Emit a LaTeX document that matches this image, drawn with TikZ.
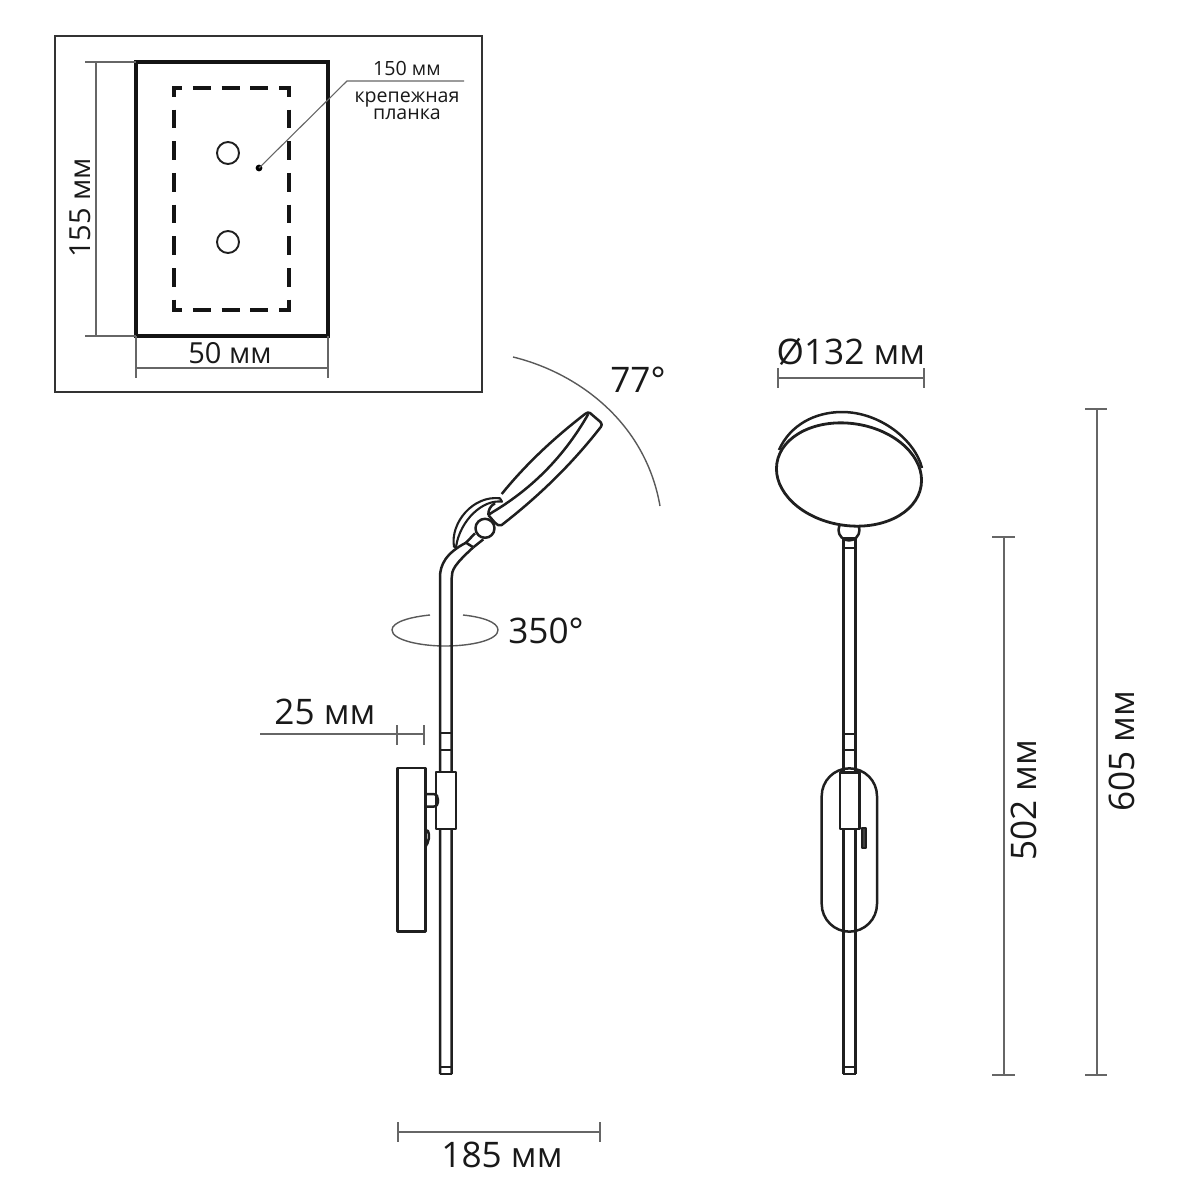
\documentclass[tikz,border=0pt]{standalone}
\usepackage{fontspec}
\setmainfont{Open Sans}
\tikzset{
  line/.style={draw=black!88,line width=1.25pt,line join=round},
  dimline/.style={draw=black!60,line width=0.55pt},
  thinarc/.style={draw=black!65,line width=0.7pt},
  dashh/.style={draw=black!92,line width=2pt,dash pattern=on 9pt off 5.4pt,dash phase=4pt},
  dashv/.style={draw=black!92,line width=2pt,dash pattern=on 9.35pt off 6.5pt,dash phase=4.6pt},
  big/.style={inner sep=0pt,text=black!90,font=\fontsize{17.6}{18}\selectfont},
  mid/.style={inner sep=0pt,text=black!90,font=\fontsize{14.5}{15}\selectfont},
  small/.style={inner sep=0pt,text=black!90,font=\fontsize{9.8}{7.3}\selectfont},
}
\begin{document}
\begin{tikzpicture}[x=0.5pt,y=-0.5pt]
\useasboundingbox (0,0) rectangle (1200,1200);
% inset
\draw[draw=black!80,line width=1.2pt] (55,36) rectangle (482,392);
\draw[draw=black!92,line width=1.6pt] (136,62) rectangle (328,336);
\draw[dashh] (172,88.3) -- (291,88.3);
\draw[dashh] (172,310) -- (291,310);
\draw[dashv] (173.7,87) -- (173.7,311.5);
\draw[dashv] (289.3,87) -- (289.3,311.5);
\draw[line,line width=0.95pt] (228,153) circle (11);
\draw[line,line width=0.95pt] (228,242) circle (11);
\coordinate (leadA) at (347,81);
\coordinate (leadB) at (464,81);
\fill[black] (259,168) circle (3.4) coordinate (leadDot);
\draw[dimline] (leadDot) -- (leadA) -- (leadB);
\draw[dimline] (85,62) -- (136,62) (85,336) -- (136,336) (96,62) -- (96,336);
\draw[dimline] (136,336) -- (136,378) (328,336) -- (328,378) (136,368) -- (328,368);
\node[mid,rotate=90] (t155) at (80,208) {155 мм};
\node[mid] (t50) at (230,353) {50 мм};
\node[small] (t150) at (407,68) {150 мм};
\node[small,align=center] (tk) at (407,106) {крепежная\\планка};
% side view
\draw[thinarc] (513,357) .. controls (575,372) and (645,420) .. (660,506);
\node[big] (t77) at (638,380) {77°};
\draw[thinarc] (430,615) .. controls (410,617) and (392,622) .. (392,630) .. controls (392,640) and (420,646) .. (445,646) .. controls (472,646) and (498,640) .. (498,630) .. controls (498,622) and (482,617) .. (463,615);
\node[big] (t350) at (546,631) {350°};
% head
\draw[line] (501.7,494) .. controls (526,464) and (554,438) .. (585,414) .. controls (587,412.5) and (588.5,412) .. (590,413) -- (600.5,422) .. controls (602,424) and (602,425) .. (601,426.7) .. controls (572,464) and (539,496) .. (501.7,525) .. controls (499,526) and (497,525) .. (495,522.7) -- (488.3,515);
\draw[line] (588.3,414) .. controls (565,455) and (533.5,487.5) .. (493.3,511.7) -- (488.3,515);
\draw[line,line width=1.05pt] (454,546.7) .. controls (450,523) and (473,495) .. (500,498.3) -- (502,501.7) .. controls (483,499) and (460,520) .. (456,547) -- cycle;
\draw[line] (495,503.3) .. controls (490,506) and (488.3,510) .. (488.3,515);
\draw[line] (485,528.3) circle (9.5);
\draw[line] (466,542.7) -- (475,533.3) (473.3,547.3) -- (483.3,539.3);
\draw[line] (466,542.7) -- (473.3,547.3);
\draw[line] (440,1074) -- (440,577) .. controls (440,565) and (446,553) .. (466,542.7);
\draw[line] (451.7,1074) -- (451.7,578) .. controls (451.7,570) and (454,565) .. (473.3,547.3);
\draw[line] (440,733) -- (451.7,733) (440,750) -- (451.7,750);
\draw[line] (440,1067) -- (451.7,1067) (440,1074) -- (451.7,1074);
\draw[line,fill=white] (436,772) rectangle (456,829);
\draw[line] (397.7,768) rectangle (425.3,931.7);
\draw[line] (425.3,794) -- (433,794) .. controls (437,794) and (438,797) .. (438,800) .. controls (438,804) and (437,806.7) .. (433,806.7) -- (425.3,806.7);
\draw[line] (425.3,830) -- (428,831) .. controls (430,835) and (429,842) .. (425.3,847);
% 25 mm
\draw[dimline] (260,734) -- (424,734) (397,725) -- (397,745) (424,725) -- (424,745);
\node[big] (t25) at (325,712) {25 мм};
% 185 mm
\draw[dimline] (398,1132) -- (600,1132) (398,1122) -- (398,1142) (600,1122) -- (600,1142);
\node[big] (t185) at (502,1155) {185 мм};
% front view
\draw[line] (849,530) circle (10.5);
\draw[line] (843.3,1074) -- (843.3,538) (855.7,1074) -- (855.7,538);
\draw[line] (843.3,538) -- (855.7,538) (843.3,548) -- (855.7,548);
\draw[line] (779,450) .. controls (790,425) and (815,412) .. (842,412) .. controls (880,412) and (915,440) .. (922,468);
\draw[line,fill=white,line width=1.4pt] (849,474.5) ellipse[x radius=73,y radius=51,rotate=-9];
\draw[line] (843.3,734) -- (855.7,734) (843.3,750) -- (855.7,750);
\draw[line] (843.3,1067) -- (855.7,1067) (843.3,1074) -- (855.7,1074);
\draw[line] (821.7,796) arc[start angle=180,end angle=360,radius=27.65] -- (877,904) arc[start angle=0,end angle=180,radius=27.65] -- cycle;
\draw[line,fill=white] (840,772.7) rectangle (859.3,829);
\draw[line,fill=black!75] (862,828) rectangle (866,848);
\draw[dimline] (778,378) -- (924,378) (778,368) -- (778,388) (924,368) -- (924,388);
\node[big] (t132) at (851,352) {Ø132 мм};
\draw[dimline] (1004,537) -- (1004,1075) (992,537) -- (1015,537) (992,1075) -- (1015,1075);
\node[big,rotate=90] (t502) at (1024,800) {502 мм};
\draw[dimline] (1097,409) -- (1097,1075) (1085,409) -- (1107,409) (1085,1075) -- (1107,1075);
\node[big,rotate=90] (t605) at (1122,751) {605 мм};
\end{tikzpicture}
\end{document}
